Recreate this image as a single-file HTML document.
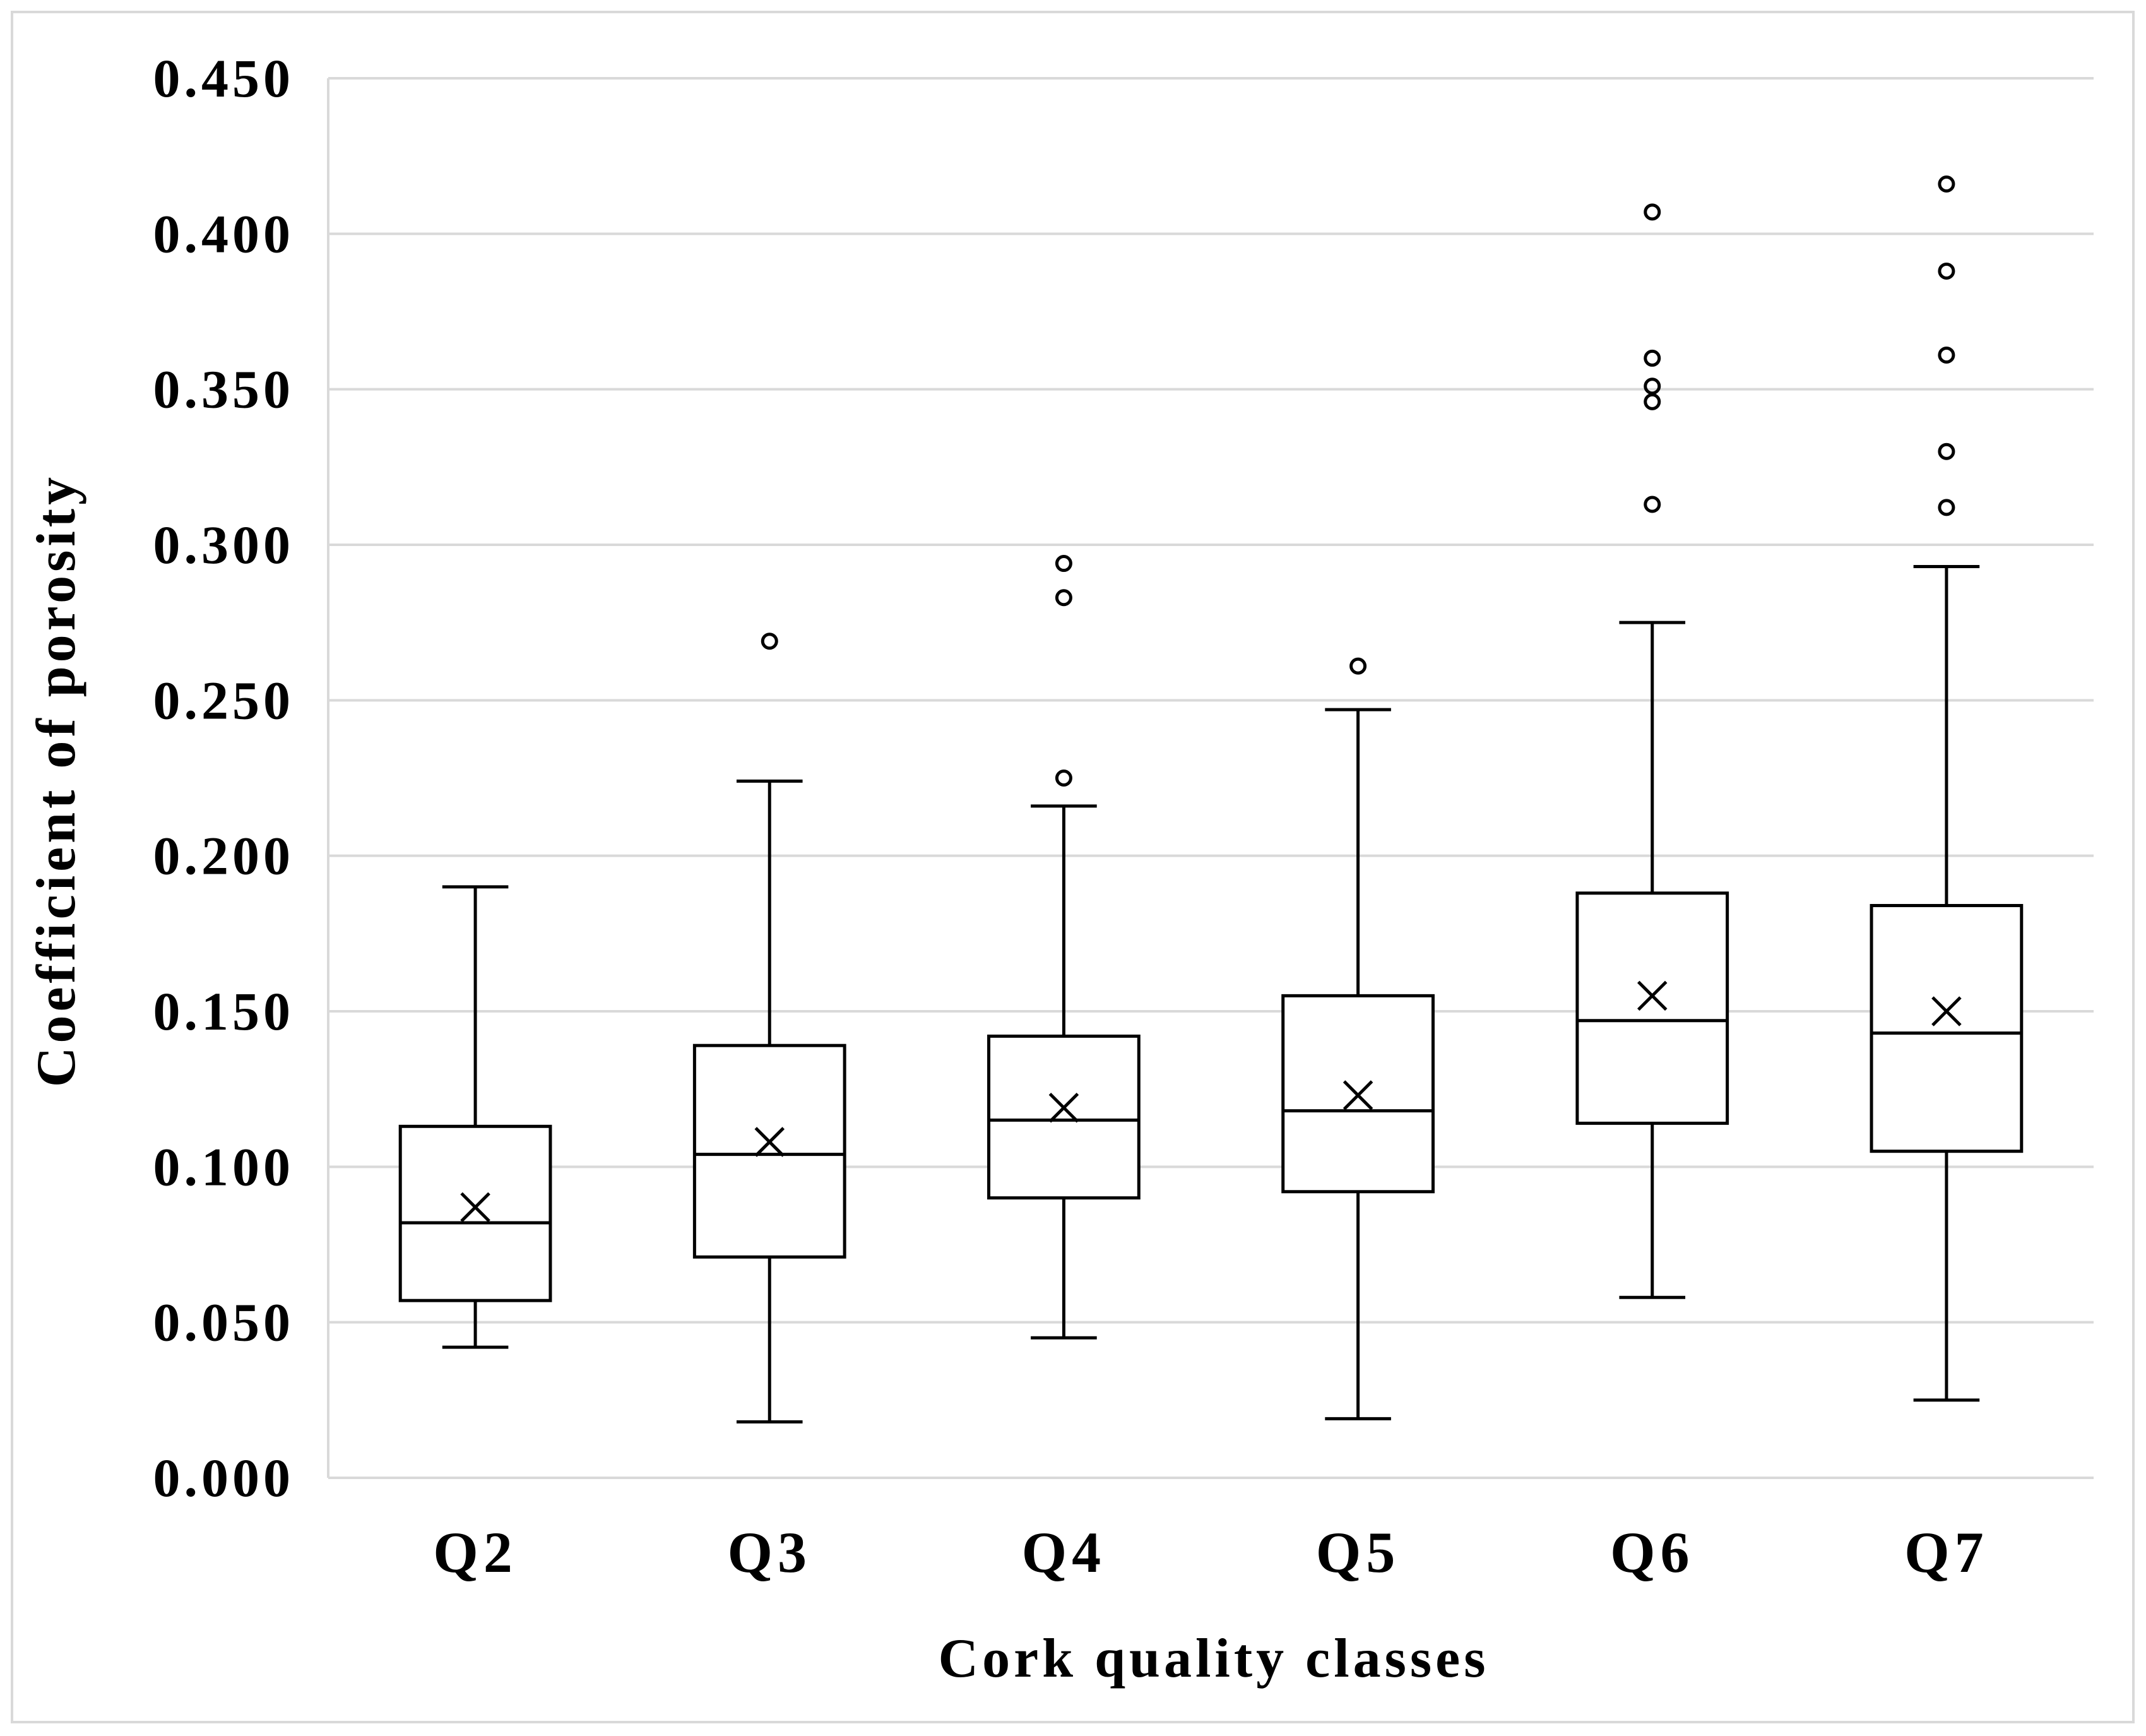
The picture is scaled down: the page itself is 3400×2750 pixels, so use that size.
<!DOCTYPE html>
<html><head><meta charset="utf-8"><style>
html,body{margin:0;padding:0;background:#fff}
svg{display:block}
text{font-family:"Liberation Serif",serif;font-weight:bold;fill:#000}
</style></head><body>
<svg id="chart" width="3400" height="2750" viewBox="0 0 3400 2750" xmlns="http://www.w3.org/2000/svg">
<rect x="19" y="19" width="3361" height="2709" fill="#fff" stroke="#d9d9d9" stroke-width="4"/>
<g id="grid"></g><g id="yticks"></g><g id="xticks"></g><g id="boxes"></g>
<text transform="translate(118,1236) rotate(-90)" text-anchor="middle" font-size="88" letter-spacing="6">Coefficient of porosity</text>
<text x="1923" y="2656" text-anchor="middle" font-size="88" letter-spacing="6">Cork quality classes</text>
</svg>
<script>
const categories=["Q2","Q3","Q4","Q5","Q6","Q7"];
const mins=[0.042,0.018,0.045,0.019,0.058,0.025];
const q1s=[0.057,0.071,0.090,0.092,0.114,0.105];
const medians=[0.082,0.104,0.115,0.118,0.147,0.143];
const q3s=[0.113,0.139,0.142,0.155,0.188,0.184];
const maxs=[0.190,0.224,0.216,0.247,0.275,0.293];
const means=[0.087,0.108,0.119,0.123,0.155,0.150];
const outliers=[[],[0.269],[0.225,0.283,0.294],[0.261],[0.313,0.346,0.351,0.360,0.407],[0.312,0.330,0.361,0.388,0.416]];
const yTicks=[0,0.05,0.1,0.15,0.2,0.25,0.3,0.35,0.4,0.45];

const NS="http://www.w3.org/2000/svg";
const L=520,R=3317,T=124,B=2341;
const y=v=>B-(v/0.45)*(B-T);
const band=(R-L)/categories.length;
const x=i=>L+band*(i+0.5);
const bw=band*0.51;
function mk(tag,attrs,parent){const e=document.createElementNS(NS,tag);for(const k in attrs)e.setAttribute(k,attrs[k]);parent.appendChild(e);return e;}
const grid=document.getElementById('grid'),yt=document.getElementById('yticks'),xt=document.getElementById('xticks'),bx=document.getElementById('boxes');
yTicks.forEach(t=>{
  const l=mk('line',{x1:L,x2:R,y1:y(t),y2:y(t),stroke:'#d9d9d9','stroke-width':4},grid);
  
  
  const tx=mk('text',{x:466,y:y(t)+29,'text-anchor':'end','font-size':86,'letter-spacing':6},yt);
  tx.textContent=t.toFixed(3);
  
  
});
mk('line',{x1:L,x2:L,y1:T,y2:B,stroke:'#d9d9d9','stroke-width':4},grid);
categories.forEach((c,i)=>{
  const cx=x(i);
  const tx=mk('text',{x:cx,y:2490,'text-anchor':'middle','font-size':92,'letter-spacing':8},xt);
  tx.textContent=c;
  
  
  const g=mk('g',{stroke:'#000','stroke-width':5,fill:'none'},bx);
  
  
  const cap=bw*0.22;
  mk('line',{x1:cx,x2:cx,y1:y(maxs[i]),y2:y(q3s[i])},g);
  mk('line',{x1:cx,x2:cx,y1:y(q1s[i]),y2:y(mins[i])},g);
  mk('line',{x1:cx-cap,x2:cx+cap,y1:y(maxs[i]),y2:y(maxs[i])},g);
  mk('line',{x1:cx-cap,x2:cx+cap,y1:y(mins[i]),y2:y(mins[i])},g);
  mk('rect',{x:cx-bw/2,y:y(q3s[i]),width:bw,height:y(q1s[i])-y(q3s[i]),fill:'#fff'},g);
  mk('line',{x1:cx-bw/2,x2:cx+bw/2,y1:y(medians[i]),y2:y(medians[i])},g);
  const m=y(means[i]),s=22;
  mk('path',{d:`M${cx-s},${m-s}L${cx+s},${m+s}M${cx-s},${m+s}L${cx+s},${m-s}`},g);
  outliers[i].forEach(o=>{
    const ci=mk('circle',{cx:cx,cy:y(o),r:11},g);
    
    
  });
});
</script>
</body></html>
